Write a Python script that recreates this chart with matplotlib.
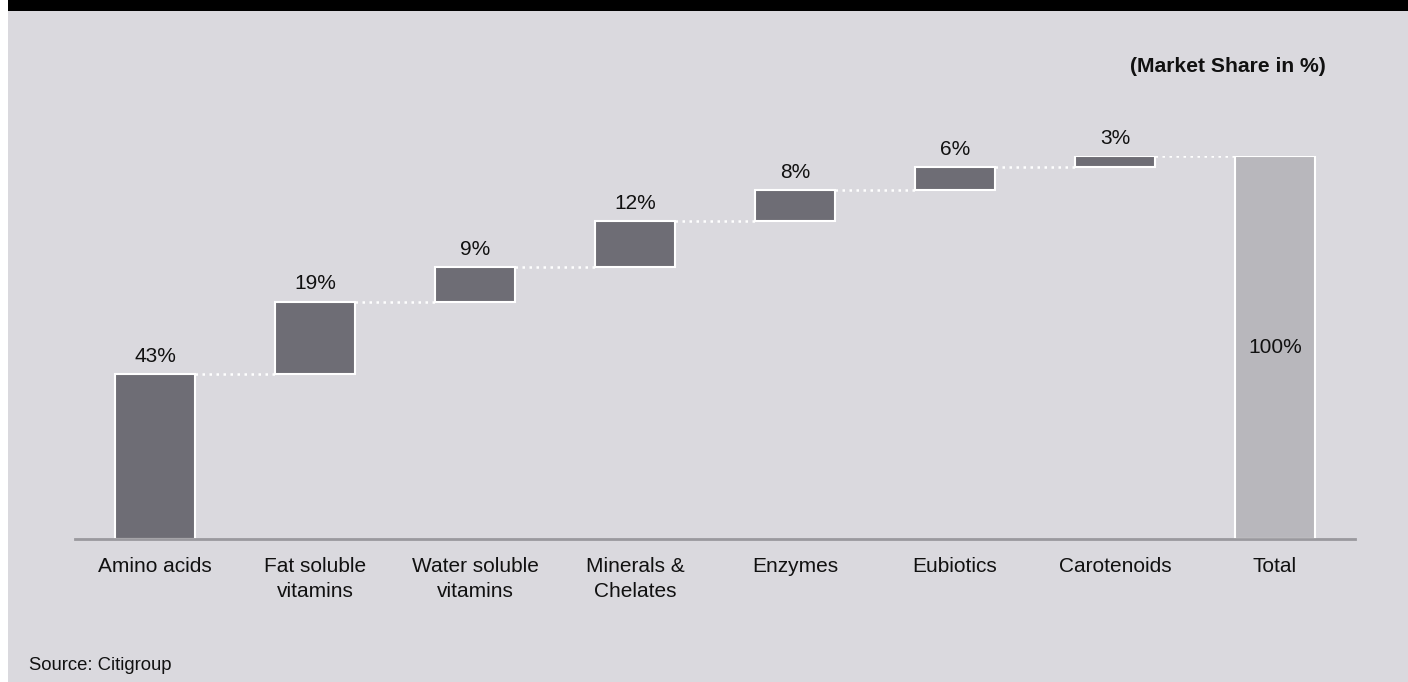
import matplotlib
matplotlib.use("Agg")
import matplotlib.pyplot as plt
from matplotlib.patches import Rectangle
import numpy as np

categories = ["Amino acids", "Fat soluble\nvitamins", "Water soluble\nvitamins",
              "Minerals &\nChelates", "Enzymes", "Eubiotics", "Carotenoids", "Total"]
values = [43, 19, 9, 12, 8, 6, 3]
total = 100
labels = ["43%", "19%", "9%", "12%", "8%", "6%", "3%", "100%"]

plt.rcParams['font.family'] = ['Liberation Sans', 'DejaVu Sans']

BG = "#dad9de"
DARK = "#6e6d75"
LIGHT = "#b8b7bc"
AXIS = "#9a999e"

fig = plt.figure(figsize=(14.08, 6.82), dpi=100)
fig.patch.set_facecolor("white")
fig.patches.append(Rectangle((8/1408, 0), 1 - 8/1408, 1 - 11/682, transform=fig.transFigure,
                             facecolor=BG, edgecolor="none", zorder=-10))
fig.patches.append(Rectangle((8/1408, 1 - 11/682), 1 - 8/1408, 11/682, transform=fig.transFigure,
                             facecolor="black", edgecolor="none", zorder=-10))

ax = fig.add_axes([75/1408, (682-539)/682, 1280/1408, 383/682])
ax.set_facecolor("none")

x = np.arange(len(categories))
bottoms = np.concatenate([[0], np.cumsum(values)[:-1]])
tops = bottoms + np.array(values)
w = 0.5

ax.bar(x[:-1], values, bottom=bottoms, width=w, color=DARK, edgecolor="white", linewidth=1.5, zorder=3)
ax.bar(x[-1], total, width=w, color=LIGHT, edgecolor="white", linewidth=1.5, zorder=3)

# connectors
levels = list(tops)
for i in range(len(categories) - 1):
    ax.plot([x[i] + w/2, x[i+1] - w/2], [levels[i], levels[i]], color="white",
            linestyle=(0, (1, 1.8)), linewidth=1.8, zorder=2)

for i in range(len(values)):
    ax.annotate(labels[i], (x[i], tops[i]), xytext=(0, 9), textcoords="offset points",
                ha="center", va="baseline", fontsize=15, color="#111111")
ax.text(x[-1], total/2, labels[-1], ha="center", va="center", fontsize=15, color="#111111", zorder=4)

ax.set_xlim(-0.5, len(categories) - 0.5)
ax.set_ylim(0, 100)
for s in ["top", "right", "left"]:
    ax.spines[s].set_visible(False)
ax.spines["bottom"].set_color(AXIS)
ax.spines["bottom"].set_linewidth(2)
ax.spines["bottom"].set_zorder(5)
ax.set_yticks([])
ax.set_xticks(x)
ax.set_xticklabels(categories, fontsize=15, color="#111111", linespacing=1.37)
ax.tick_params(axis="x", length=0, pad=13)

fig.text(1326/1408, 1 - 66/682, "(Market Share in %)", ha="right", va="center",
         fontsize=15.2, fontweight="bold", color="#111111")
fig.text(29/1408, 1 - 670/682, "Source: Citigroup", ha="left", va="baseline",
         fontsize=13.3, color="#111111")

fig.savefig("out.png", dpi=100, facecolor=fig.get_facecolor())
